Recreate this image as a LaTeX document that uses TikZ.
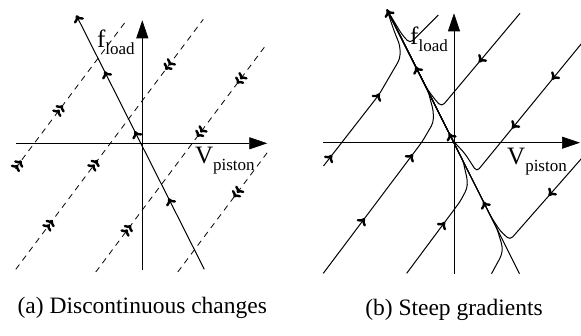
\documentclass[tikz,border=0pt]{standalone}
\usepackage{fontspec}
\setmainfont{Liberation Serif}
\usetikzlibrary{arrows.meta,decorations.markings}
\newcommand{\lsub}[1]{\raisebox{-7pt}{\fontsize{17}{17}\selectfont #1}}
\tikzset{
  barb/.tip={Computer Modern Rightarrow[length=7pt,width=11pt,line width=2.4pt]},
  dbarb/.tip={Computer Modern Rightarrow[length=5.5pt,width=11pt,line width=2.4pt,sep=0pt]Computer Modern Rightarrow[length=5.5pt,width=11pt,line width=2.4pt]},
  axis/.style={line width=0.7pt,-{Triangle[length=18pt,width=12pt]}},
  flow/.style={line width=1pt,rounded corners=4pt},
  jump/.style={line width=0.8pt,dash pattern=on 6pt off 5pt},
  fw/.style={postaction={solid,decorate,decoration={markings,mark=at position #1 with {\arrow{barb}}}}},
  fwj/.style={postaction={solid,decorate,decoration={markings,mark=at position #1 with {\arrow{dbarb}}}}},
  bwj/.style={postaction={solid,decorate,decoration={markings,mark=at position #1 with {\arrowreversed{dbarb}}}}},
  lbl/.style={inner sep=0pt,anchor=base west,font=\fontsize{25}{25}\selectfont},
  captionlbl/.style={inner sep=0pt,anchor=base,font=\fontsize{23.5}{23.5}\selectfont}
}
\begin{document}
\begin{tikzpicture}[x=1pt,y=1pt]
  \useasboundingbox (0,0) rectangle (581,336);

  % (a) discontinuous changes
  \begin{scope}[shift={(142.3,192.7)}]
    \draw[axis] (-126,0) -- (125,0);
    \draw[axis] (0,-127) -- (0,123);
    \node[lbl] (fa) at (-45.5,96) {f\lsub{load}};
    \node[lbl] (va) at (52.5,-20) {V\lsub{piston}};
    \draw[jump,fwj=10pt,fwj=79pt] (-127,-25.3) -- (-15,124);
    \draw[jump,fwj=61.5pt,fwj=136.5pt,bwj=249.5pt] (-126.5,-126) -- (61,124);
    \draw[jump,fwj=58.5pt,bwj=169pt,bwj=235.5pt] (-46.5,-128.7) -- (125,100);
    \draw[jump,bwj=93.5pt] (35.5,-128.7) -- (125,-9.3);
    \draw[flow,-{barb},fw=79.6pt,fw=154.7pt,fw=221.8pt] (62,-126) -- (-66,128);
  \end{scope}

  % (b) steep gradients
  \begin{scope}[shift={(454,193.3)}]
    \draw[axis] (-131,0) -- (126,0);
    \draw[axis] (0,-131) -- (0,129.4);
    \node[lbl] (fb) at (-44,97.7) {f\lsub{load}};
    \node[lbl] (vb) at (53,-22.3) {V\lsub{piston}};
    \draw[flow,-{barb},fw=80.8pt,fw=157.2pt,fw=231.8pt] (65.5,-131) -- (-67,133);
    \draw[flow,fw=14pt,fw=91.5pt] (-130.5,-23.3) -- (-75,48) -- (-54,84) -- (-54,97) -- (-60,112) -- (-67,133);
    \draw[flow] (-15.7,127.7) -- (-44,99.4) -- (-52,108) -- (-67,133);
    \draw[flow,fw=64pt] (66,129.4) -- (-12.3,36) -- (-19,43) -- (-27,54) -- (-67,133);
    \draw[flow,fw=47pt,fw=110pt] (127.7,99.4) -- (22.7,-29) -- (11,-11) -- (-1,2) -- (-67,133);
    \draw[flow,fw=50pt] (127.7,-15.6) -- (56,-97.3) -- (46,-88) -- (37,-74) -- (-67,133);
    \draw[flow,fw=69pt,fw=149pt] (-130.7,-130.6) -- (-32,0.7) -- (-20.7,20) -- (-20.7,32) -- (-26,52) -- (-67,133);
    \draw[flow,fw=64pt] (-47.3,-130.6) -- (6,-59) -- (13,-46) -- (13.5,-38) -- (9,-18) -- (-67,133);
    \draw[flow] (37.5,-131) -- (47.7,-112.3) -- (48.5,-104) -- (43,-86) -- (-67,133);
  \end{scope}

  \node[captionlbl] (capa) at (142.3,22) {(a) Discontinuous changes};
  \node[captionlbl] (capb) at (454,20.5) {(b) Steep gradients};
\end{tikzpicture}
\end{document}
